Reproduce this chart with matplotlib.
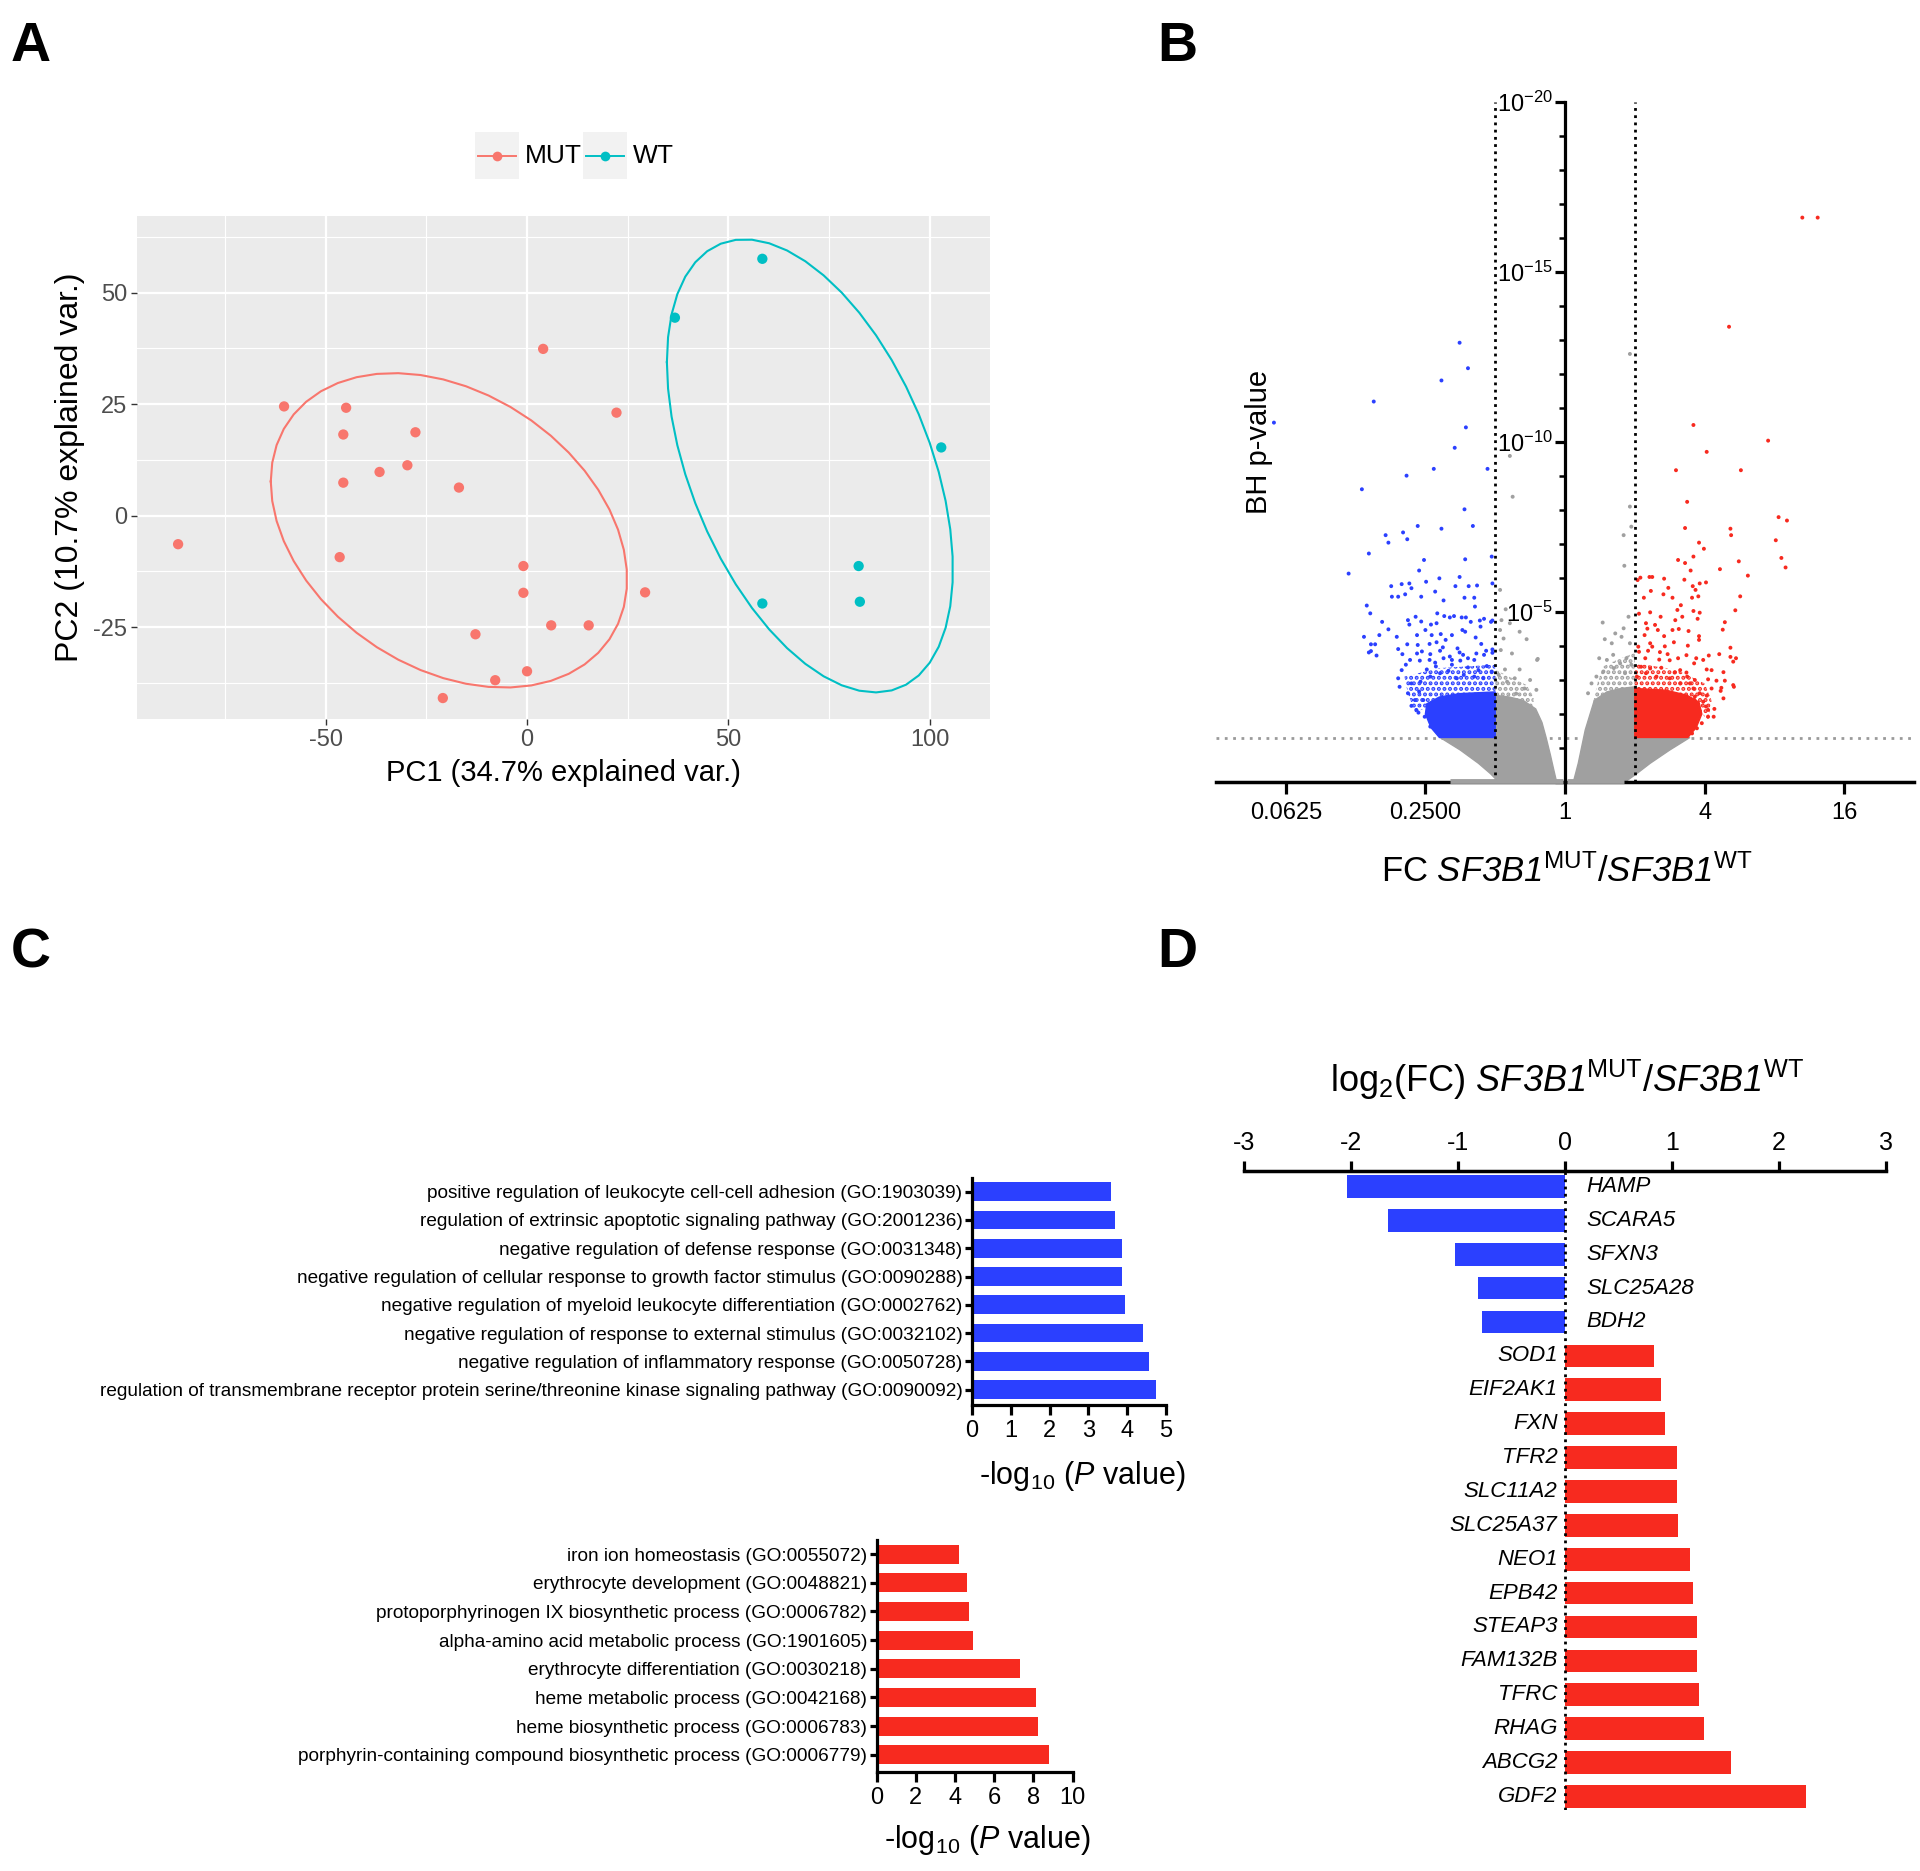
import numpy as np
import matplotlib
matplotlib.use("Agg")
import matplotlib.pyplot as plt
from matplotlib.patches import Rectangle, Polygon

W, H = 1920, 1871

# --------------------------------------------
# Data
# --------------------------------------------

# A: PCA scores
mut_pc1 = [-86.6, -60.3, -44.9, -45.6, -27.7, -36.6, -29.7, -45.6, -16.9, -46.5, 4.0,
           22.2, -0.9, -0.9, 29.3, 6.0, 15.3, -12.8, 0.0, -7.9, -20.9]
mut_pc2 = [-6.4, 24.5, 24.2, 18.2, 18.7, 9.8, 11.3, 7.4, 6.3, -9.3, 37.4,
           23.1, -11.3, -17.3, -17.2, -24.6, -24.6, -26.6, -34.9, -36.9, -40.9]
wt_pc1 = [58.4, 36.7, 102.8, 82.3, 82.6, 58.4]
wt_pc2 = [57.6, 44.4, 15.3, -11.3, -19.3, -19.7]

# B: volcano, (log2 FC, -log10 BH p)
blue_pts = [(-4.17, 10.57), (-1.51, 12.92), (-1.39, 12.17), (-1.77, 11.81), (-2.74, 11.19),
            (-1.42, 10.43), (-1.58, 9.83), (-1.88, 9.21), (-1.11, 9.21), (-2.27, 9.01),
            (-2.91, 8.61), (-1.44, 8.02), (-1.32, 7.53), (-1.77, 7.45), (-2.11, 7.53),
            (-2.57, 7.26), (-2.32, 7.34), (-2.53, 7.04), (-2.26, 7.14), (-2.81, 6.72),
            (-1.43, 6.55), (-1.05, 6.63), (-2.02, 6.53), (-3.10, 6.13), (-2.09, 6.22),
            (-1.80, 5.99), (-1.51, 6.03), (-2.49, 5.76), (-2.34, 5.82), (-2.23, 5.84),
            (-2.20, 5.70), (-1.99, 5.89), (-1.57, 5.76), (-1.38, 5.76), (-1.26, 5.78),
            (-1.04, 5.84), (-2.48, 5.45), (-2.39, 5.45), (-2.29, 5.52), (-2.06, 5.45),
            (-1.86, 5.60), (-1.74, 5.34), (-1.44, 5.42), (-1.30, 5.42), (-2.84, 5.19),
            (-2.79, 4.96), (-1.29, 5.16), (-2.62, 4.71), (-2.88, 4.27), (-2.66, 4.32),
            (-2.53, 4.49), (-2.78, 4.05), (-2.72, 4.05), (-2.81, 3.81), (-2.78, 3.85),
            (-2.70, 3.72), (-2.41, 4.27), (-2.39, 3.91), (-2.25, 4.76), (-2.14, 4.86),
            (-1.83, 4.96), (-2.23, 4.63), (-2.06, 4.72), (-2.00, 4.47), (-1.92, 4.63),
            (-1.84, 4.67), (-1.73, 4.88), (-1.65, 4.84), (-1.59, 4.88), (-1.48, 4.84),
            (-1.42, 4.84), (-1.47, 4.47), (-1.43, 4.42), (-1.35, 4.71), (-1.22, 4.75),
            (-1.21, 4.57), (-1.16, 4.80), (-1.06, 4.71), (-1.04, 4.75), (-2.12, 4.32),
            (-1.91, 4.32), (-1.78, 4.35), (-1.71, 4.18), (-1.62, 4.32), (-1.28, 4.25),
            (-2.26, 4.05), (-2.11, 4.03), (-1.94, 4.06), (-1.84, 4.11), (-1.75, 3.96),
            (-1.54, 3.93), (-1.51, 3.81), (-1.20, 4.06), (-1.13, 3.86), (-1.04, 3.90),
            (-2.33, 3.76), (-2.12, 3.78), (-2.05, 3.84), (-1.93, 3.76), (-1.79, 3.86),
            (-1.65, 3.69), (-1.46, 3.74), (-1.27, 3.78), (-1.16, 3.74), (-1.04, 3.80),
            (-2.22, 3.59), (-2.08, 3.57), (-1.94, 3.59), (-1.86, 3.51), (-1.74, 3.64),
            (-1.62, 3.59), (-1.50, 3.57), (-1.39, 3.64), (-1.30, 3.59),
            (-2.39, 3.05), (-2.34, 3.29), (-2.37, 2.80), (-2.25, 2.61), (-2.20, 2.24),
            (-2.13, 2.12), (-2.07, 2.95), (-2.20, 2.90), (-1.98, 3.31), (-1.93, 3.10),
            (-1.79, 3.20), (-1.67, 3.27), (-1.39, 3.37), (-1.24, 3.29), (-1.12, 3.41),
            (-1.17, 3.05), (-1.55, 3.05), (-2.09, 2.66), (-2.03, 2.41), (-2.15, 2.41),
            (-2.01, 1.92), (-1.93, 1.63), (-1.84, 1.53), (-2.10, 2.04), (-1.93, 2.12),
            (-1.05, 3.25), (-1.45, 3.15), (-1.62, 3.45), (-1.85, 3.40), (-2.28, 3.45),
            (-1.30, 3.10)]
red_pts = [(3.40, 16.6), (3.62, 16.6), (2.35, 13.39), (1.84, 10.50), (2.91, 10.04),
           (2.03, 9.71), (1.59, 9.17), (2.52, 9.17), (1.75, 8.24), (3.06, 7.79),
           (3.18, 7.69), (1.72, 7.47), (2.37, 7.45), (2.38, 7.26), (3.02, 7.11),
           (1.92, 7.04), (1.99, 6.86), (1.84, 6.63), (1.62, 6.53), (1.72, 6.44),
           (2.49, 6.49), (3.10, 6.59), (2.22, 6.26), (3.16, 6.31), (1.80, 6.22),
           (2.62, 6.07), (1.08, 6.01), (1.04, 5.94), (1.21, 6.03), (1.25, 6.03),
           (1.42, 5.98), (1.71, 5.95), (1.48, 5.71), (1.23, 5.62), (1.13, 5.42),
           (1.41, 5.52), (1.54, 5.42), (1.83, 5.76), (1.87, 5.65), (1.93, 5.84),
           (2.02, 5.87), (1.82, 5.42), (1.91, 5.46), (2.51, 5.46), (1.66, 5.20),
           (1.61, 5.06), (1.84, 5.03), (1.93, 4.98), (2.44, 5.05), (1.06, 4.95),
           (1.22, 4.99), (1.37, 4.86), (1.68, 4.86), (1.90, 4.80), (1.58, 4.76),
           (1.16, 4.67), (1.29, 4.62), (2.29, 4.70), (1.18, 4.51), (1.33, 4.47),
           (1.54, 4.47), (1.63, 4.50), (1.77, 4.44), (2.26, 4.48), (1.14, 4.32),
           (1.42, 4.29), (1.92, 4.29), (1.92, 4.18), (1.05, 3.98), (1.22, 4.08),
           (1.25, 3.98), (1.43, 3.99), (1.56, 4.11), (1.76, 4.01), (2.37, 3.95),
           (2.21, 3.76), (1.06, 3.83), (1.19, 3.86), (1.36, 3.82), (1.47, 3.76),
           (1.74, 3.73), (1.88, 3.64), (2.06, 3.72), (2.37, 3.68), (2.45, 3.64),
           (1.15, 3.64), (1.35, 3.60), (1.50, 3.58), (1.62, 3.64), (1.98, 3.59),
           (1.85, 3.49), (2.41, 3.54), (1.09, 3.39), (1.22, 3.34), (1.38, 3.36),
           (1.57, 3.22), (1.74, 3.22), (2.03, 3.31), (2.10, 3.29), (2.27, 3.23),
           (1.65, 3.29), (1.75, 3.10), (1.86, 3.00), (2.05, 3.02), (2.17, 2.98),
           (2.29, 2.98), (2.41, 2.85), (2.24, 2.77), (2.42, 2.80), (2.23, 2.68),
           (2.03, 2.54), (2.27, 2.46), (2.14, 2.15), (2.02, 2.22),
           (1.03, 3.10), (1.16, 3.20), (1.31, 3.10), (1.50, 3.05), (1.65, 2.90),
           (1.84, 2.75), (1.93, 2.61), (1.98, 2.36), (2.05, 1.92), (1.96, 1.73),
           (1.89, 1.58), (1.82, 1.43), (1.72, 1.35), (2.13, 1.92), (2.05, 2.12),
           (1.86, 2.51), (2.10, 2.75), (1.79, 2.90)]
grey_pts = [(-0.79, 9.59), (-0.75, 8.39), (-0.93, 5.65), (-0.85, 5.08), (-0.79, 4.67),
            (-0.91, 4.76), (-0.93, 4.47), (-0.88, 4.22), (-0.55, 4.20), (-0.65, 4.42),
            (-0.76, 3.78), (-0.92, 3.88), (-0.40, 3.59), (-0.86, 3.31), (-0.65, 3.31),
            (-0.41, 2.71), (-0.50, 3.00), (-0.72, 3.05), (-0.39, 3.62), (-0.58, 2.75),
            (-0.83, 2.95), (-0.95, 3.15), (-0.70, 2.60),
            (0.93, 12.59), (0.93, 8.10), (0.95, 7.51), (0.84, 7.26), (0.85, 6.36),
            (0.54, 4.69), (0.57, 4.20), (0.67, 4.08), (0.72, 4.37), (0.81, 4.27),
            (0.84, 4.52), (0.91, 4.86), (0.93, 4.08), (0.49, 3.64), (0.60, 3.59),
            (0.69, 3.74), (0.79, 3.49), (0.88, 3.64), (0.45, 3.10), (0.38, 2.90),
            (0.33, 2.61), (0.55, 3.25), (0.70, 3.35), (0.86, 3.20), (0.95, 3.45)]
# outlines of the saturated parts of the point clouds
grey_left_core = [(-1.0, 1.31), (-1.79, 1.31), (-1.50, 0.94), (-1.24, 0.55), (-1.07, 0.25),
                  (-0.95, 0.0), (-0.12, 0.0), (-0.16, 0.35), (-0.21, 0.8), (-0.27, 1.3),
                  (-0.33, 1.75), (-0.42, 2.15), (-0.6, 2.4), (-0.8, 2.5), (-1.0, 2.55)]
grey_left_halo = [(-1.0, 2.3), (-0.45, 2.0), (-0.45, 2.5), (-0.55, 2.85), (-0.75, 3.05),
                  (-1.0, 3.3)]
grey_right_core = [(1.0, 1.31), (1.79, 1.31), (1.50, 0.94), (1.22, 0.55), (1.03, 0.25),
                   (0.86, 0.0), (0.12, 0.0), (0.19, 0.55), (0.24, 1.04), (0.29, 1.53),
                   (0.36, 2.0), (0.42, 2.4), (0.6, 2.65), (0.8, 2.75), (1.0, 2.8)]
grey_right_halo = [(1.0, 2.6), (0.4, 2.3), (0.47, 2.95), (0.55, 3.4), (0.75, 3.6), (1.0, 3.8)]
blue_core = [(-1.0, 1.31), (-1.80, 1.31), (-1.92, 1.6), (-2.0, 2.0), (-1.98, 2.3),
             (-1.8, 2.5), (-1.5, 2.6), (-1.0, 2.65)]
blue_halo = [(-1.0, 2.4), (-1.85, 2.3), (-2.15, 2.05), (-2.25, 2.6), (-2.3, 3.1),
             (-1.8, 3.35), (-1.0, 3.45)]
red_core = [(1.0, 1.31), (1.76, 1.31), (1.88, 1.6), (1.96, 2.0), (1.92, 2.35),
            (1.75, 2.55), (1.45, 2.7), (1.0, 2.75)]
red_halo = [(1.0, 2.5), (1.85, 2.3), (2.05, 1.8), (2.1, 2.4), (2.0, 2.9),
            (1.6, 3.3), (1.0, 3.5)]
grey_zero_rows = [(-1.65, -0.03), (0.03, 0.84)]
fc_cut = 1.0
p_cut = 0.05

# C: GO enrichment
go_down_terms = ["positive regulation of leukocyte cell-cell adhesion (GO:1903039)",
                 "regulation of extrinsic apoptotic signaling pathway (GO:2001236)",
                 "negative regulation of defense response (GO:0031348)",
                 "negative regulation of cellular response to growth factor stimulus (GO:0090288)",
                 "negative regulation of myeloid leukocyte differentiation (GO:0002762)",
                 "negative regulation of response to external stimulus (GO:0032102)",
                 "negative regulation of inflammatory response (GO:0050728)",
                 "regulation of transmembrane receptor protein serine/threonine kinase signaling pathway (GO:0090092)"]
go_down_vals = [3.57, 3.68, 3.87, 3.87, 3.94, 4.42, 4.57, 4.73]
go_up_terms = ["iron ion homeostasis (GO:0055072)",
               "erythrocyte development (GO:0048821)",
               "protoporphyrinogen IX biosynthetic process (GO:0006782)",
               "alpha-amino acid metabolic process (GO:1901605)",
               "erythrocyte differentiation (GO:0030218)",
               "heme metabolic process (GO:0042168)",
               "heme biosynthetic process (GO:0006783)",
               "porphyrin-containing compound biosynthetic process (GO:0006779)"]
go_up_vals = [4.20, 4.60, 4.70, 4.90, 7.32, 8.12, 8.25, 8.78]

# D: genes
genes = ["HAMP", "SCARA5", "SFXN3", "SLC25A28", "BDH2", "SOD1", "EIF2AK1", "FXN", "TFR2",
         "SLC11A2", "SLC25A37", "NEO1", "EPB42", "STEAP3", "FAM132B", "TFRC", "RHAG",
         "ABCG2", "GDF2"]
gene_log2fc = [-2.04, -1.65, -1.03, -0.81, -0.78, 0.83, 0.90, 0.93, 1.05, 1.05, 1.06,
               1.17, 1.20, 1.23, 1.23, 1.25, 1.30, 1.55, 2.25]

# --------------------------------------------
# Style
# --------------------------------------------
plt.rcParams['font.family'] = ['Liberation Sans', 'DejaVu Sans']
plt.rcParams['axes.unicode_minus'] = False
plt.rcParams['mathtext.fontset'] = 'custom'
plt.rcParams['mathtext.rm'] = 'Liberation Sans'
plt.rcParams['mathtext.it'] = 'Liberation Sans:italic'
plt.rcParams['mathtext.sf'] = 'Liberation Sans:italic'  # italic digits too (gene names)
plt.rcParams['mathtext.bf'] = 'Liberation Sans:bold'
plt.rcParams['hatch.linewidth'] = 2.0

MUT_C = "#F8766D"
WT_C = "#00BFC4"
BLUE = "#2B40FF"
RED = "#F72A1F"
GREY = "#A0A0A0"
LW = 2.3
GENE = r"$\mathsf{SF3B1}^{\mathrm{MUT}}$/$\mathsf{SF3B1}^{\mathrm{WT}}$"


def px_axes(fig, x0, y0, x1, y1):
    return fig.add_axes([x0 / W, 1 - y1 / H, (x1 - x0) / W, (y1 - y0) / H])


def data_ellipse(x, y, prob=0.68, n=50):
    # same construction as ggbiplot's group ellipses
    xy = np.column_stack([x, y])
    mu = xy.mean(axis=0)
    sigma = np.cov(xy, rowvar=False)
    ed = np.sqrt(-2 * np.log(1 - prob))
    theta = np.linspace(-np.pi, np.pi, n)
    circle = np.column_stack([np.cos(theta), np.sin(theta)])
    return circle @ np.linalg.cholesky(sigma).T * ed + mu


fig = plt.figure(figsize=(W / 100, H / 100), dpi=100)
over = fig.add_axes([0, 0, 1, 1], zorder=10)
over.set_xlim(0, W)
over.set_ylim(H, 0)
over.axis("off")

# panel letters
for letter, x, y in [("A", 11, 61), ("B", 1157, 61), ("C", 11, 967), ("D", 1157, 967)]:
    over.text(x, y, letter, fontsize=40, fontweight="bold", va="baseline", ha="left")

# --------------------------------------------
# A: PCA
# --------------------------------------------
axa = px_axes(fig, 137, 216, 990, 719)
axa.set_facecolor("#EBEBEB")
axa.set_xlim(-96.8, 114.9)
axa.set_ylim(-45.6, 67.2)
axa.set_xticks([-50, 0, 50, 100])
axa.set_yticks([-25, 0, 25, 50])
axa.set_xticks([-75, -25, 25, 75], minor=True)
axa.set_yticks([-37.5, -12.5, 12.5, 37.5, 62.5], minor=True)
axa.grid(which="major", color="white", lw=1.6)
axa.grid(which="minor", color="white", lw=0.8)
axa.set_axisbelow(True)
for s in axa.spines.values():
    s.set_visible(False)
axa.tick_params(which="major", length=4, width=1, color="#333333", labelsize=17,
                labelcolor="#4D4D4D", pad=3)
axa.tick_params(which="minor", length=0)

for px, py, col in [(mut_pc1, mut_pc2, MUT_C), (wt_pc1, wt_pc2, WT_C)]:
    ell = data_ellipse(px, py)
    axa.plot(ell[:, 0], ell[:, 1], color=col, lw=1.5)
    axa.scatter(px, py, s=55, color=col, edgecolors="none", zorder=3)
axa.set_xlabel("PC1 (34.7% explained var.)", fontsize=21, labelpad=6)
axa.set_ylabel("PC2 (10.7% explained var.)", fontsize=23, labelpad=6)

# legend (ggplot style keys with grey background)
for x0, lab, col in [(475, "MUT", MUT_C), (583, "WT", WT_C)]:
    over.add_patch(Rectangle((x0, 132), 44, 47, fc="#F2F2F2", ec="none"))
    over.plot([x0 + 3, x0 + 41], [155.5, 155.5], color=col, lw=1.4)
    over.plot([x0 + 22], [155.5], "o", color=col, ms=7, mec="none")
    over.text(x0 + 50, 156, lab, fontsize=19, va="center", ha="left")

# --------------------------------------------
# B: volcano
# --------------------------------------------
axb = px_axes(fig, 1216, 102, 1914, 782)
axb.set_xlim(-5, 5)
axb.set_ylim(0, 20)
thr = -np.log10(p_cut)
axb.axhline(thr, color="#9A9A9A", lw=2, ls=(0, (1, 2)), zorder=1)
for core, halo, col in [(grey_left_core, grey_left_halo, GREY),
                        (grey_right_core, grey_right_halo, GREY),
                        (blue_core, blue_halo, BLUE), (red_core, red_halo, RED)]:
    axb.add_patch(Polygon(halo, closed=True, fc="none", ec=col, lw=0, hatch="...",
                          zorder=2))
    axb.add_patch(Polygon(core, closed=True, fc=col, ec=col, lw=1, zorder=2))
for pts, col in [(grey_pts, GREY), (blue_pts, BLUE), (red_pts, RED)]:
    arr = np.array(pts)
    axb.scatter(arr[:, 0], arr[:, 1], s=8, color=col, edgecolors="none", zorder=3)
for x0, x1 in grey_zero_rows:
    axb.plot([x0, x1], [0.03, 0.03], color=GREY, lw=3.5, zorder=5, clip_on=False,
             solid_capstyle="butt")
axb.vlines([-fc_cut, fc_cut], 0, 20, colors="k", lw=2, linestyles=(0, (1, 1.6)), zorder=4)

axb.spines["top"].set_visible(False)
axb.spines["right"].set_visible(False)
axb.spines["left"].set_position(("data", 0))
axb.spines["left"].set_bounds(0, 20)
axb.spines["left"].set_linewidth(LW)
axb.spines["bottom"].set_linewidth(2.5)
axb.spines["left"].set_zorder(4)
axb.spines["bottom"].set_zorder(4)
axb.set_yticks([0, 5, 10, 15, 20])
axb.set_yticklabels(["", r"$10^{-5}$", r"$10^{-10}$", r"$10^{-15}$", r"$10^{-20}$"])
axb.set_yticks(np.arange(0, 21, 1), minor=True)
axb.set_xticks([-4, -2, 0, 2, 4])
axb.set_xticklabels(["0.0625", "0.2500", "1", "4", "16"])
axb.tick_params(axis="y", which="major", length=7, width=LW, labelsize=17, pad=2)
axb.tick_params(axis="y", which="minor", length=4.5, width=1.8)
axb.tick_params(axis="x", which="major", length=8.5, width=LW, labelsize=17, pad=6)

over.text(1259, 442, "BH p-value", fontsize=21, rotation=90, ha="center", va="center")
over.text(1567, 872, "FC " + GENE, fontsize=25, ha="center", va="center")

# --------------------------------------------
# C: GO bars
# --------------------------------------------
def go_panel(box, terms, vals, color, xmax, xstep, ylim):
    ax = px_axes(fig, *box)
    ax.barh(range(len(terms)), vals, height=0.66, color=color)
    ax.set_xlim(0, xmax)
    ax.set_ylim(*ylim)
    ax.set_yticks(range(len(terms)))
    ax.set_yticklabels(terms, fontsize=13.7)
    ax.set_xticks(np.arange(0, xmax + 0.01, xstep))
    ax.spines["top"].set_visible(False)
    ax.spines["right"].set_visible(False)
    ax.spines["left"].set_linewidth(LW)
    ax.spines["bottom"].set_linewidth(LW)
    ax.tick_params(axis="y", length=5, width=LW, pad=2)
    ax.tick_params(axis="x", length=7, width=LW, labelsize=17, pad=4)
    return ax


go_panel((972, 1178, 1166, 1404.5), go_down_terms, go_down_vals, BLUE, 5, 1, (7.52, -0.48))
go_panel((876.7, 1540, 1072.6, 1772), go_up_terms, go_up_vals, RED, 10, 2, (7.6, -0.49))
over.text(1082, 1476, r"-log$_{10}$ ($\mathit{P}$ value)", fontsize=22, ha="center", va="center")
over.text(987, 1840, r"-log$_{10}$ ($\mathit{P}$ value)", fontsize=22, ha="center", va="center")

# --------------------------------------------
# D: iron genes
# --------------------------------------------
axd = px_axes(fig, 1244, 1170.5, 1886, 1810)
cols = [BLUE if v < 0 else RED for v in gene_log2fc]
axd.barh(range(len(genes)), gene_log2fc, height=0.67, color=cols)
axd.set_xlim(-3, 3)
axd.set_ylim(18.4, -0.47)
axd.axvline(0, color="k", lw=2, ls=(0, (1, 1.6)), zorder=4)
for i, (g, v) in enumerate(zip(genes, gene_log2fc)):
    if v < 0:
        axd.text(0.2, i, g, fontsize=16, style="italic", ha="left", va="center")
    else:
        axd.text(-0.07, i, g, fontsize=16, style="italic", ha="right", va="center")
axd.xaxis.tick_top()
axd.set_xticks(range(-3, 4))
axd.set_yticks([])
for s in ["bottom", "left", "right"]:
    axd.spines[s].set_visible(False)
axd.spines["top"].set_linewidth(2.5)
axd.tick_params(axis="x", length=7, width=LW, labelsize=18, pad=4)
over.text(1567, 1080, "log$_2$(FC) " + GENE, fontsize=26, ha="center", va="center")

fig.savefig("out.png", dpi=100)
